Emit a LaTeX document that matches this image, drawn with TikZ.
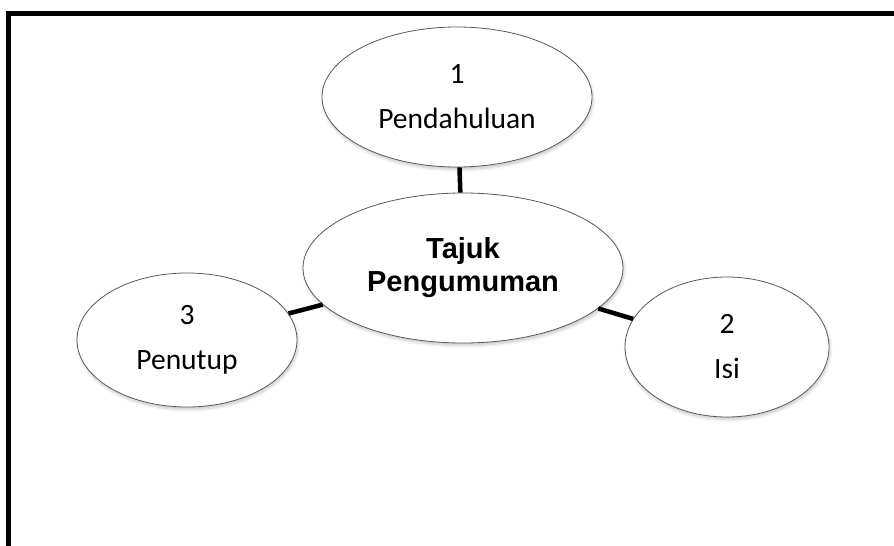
\documentclass[tikz,border=0pt]{standalone}
\usepackage{fontspec}
\setmainfont{Carlito}
\newfontfamily\tajukfont{Liberation Sans}
\usetikzlibrary{shapes.geometric}
\usetikzlibrary{shadows.blur}

\begin{document}
\begin{tikzpicture}[x=1pt,y=-1pt,
    bagian/.style={ellipse,draw=black!65,line width=0.8pt,fill=white,inner sep=0pt,align=center,
      blur shadow={shadow xshift=1pt,shadow yshift=-2.5pt,shadow blur radius=3pt,shadow blur steps=6,shadow opacity=22},
      font=\fontsize{29.5}{45}\selectfont},
    penghubung/.style={line width=4.5pt,black}]
  \useasboundingbox (0,0) rectangle (894,546);
  \draw[line width=5pt] (8.5,546) -- (8.5,13.5) -- (894,13.5);

  \node[bagian,minimum width=320,minimum height=150,
        font=\tajukfont\bfseries\fontsize{29}{33}\selectfont] (tajuk) at (463,268) {Tajuk\\Pengumuman};
  \node[bagian,minimum width=270,minimum height=140] (pendahuluan) at (457,97) {1\\Pendahuluan};
  \node[bagian,minimum width=204,minimum height=140] (isi) at (727,347) {2\\Isi};
  \node[bagian,minimum width=220,minimum height=134] (penutup) at (187,340) {3\\Penutup};

  \path[penghubung]
    (tajuk) edge (pendahuluan)
            edge (isi)
            edge (penutup);
\end{tikzpicture}
\end{document}
